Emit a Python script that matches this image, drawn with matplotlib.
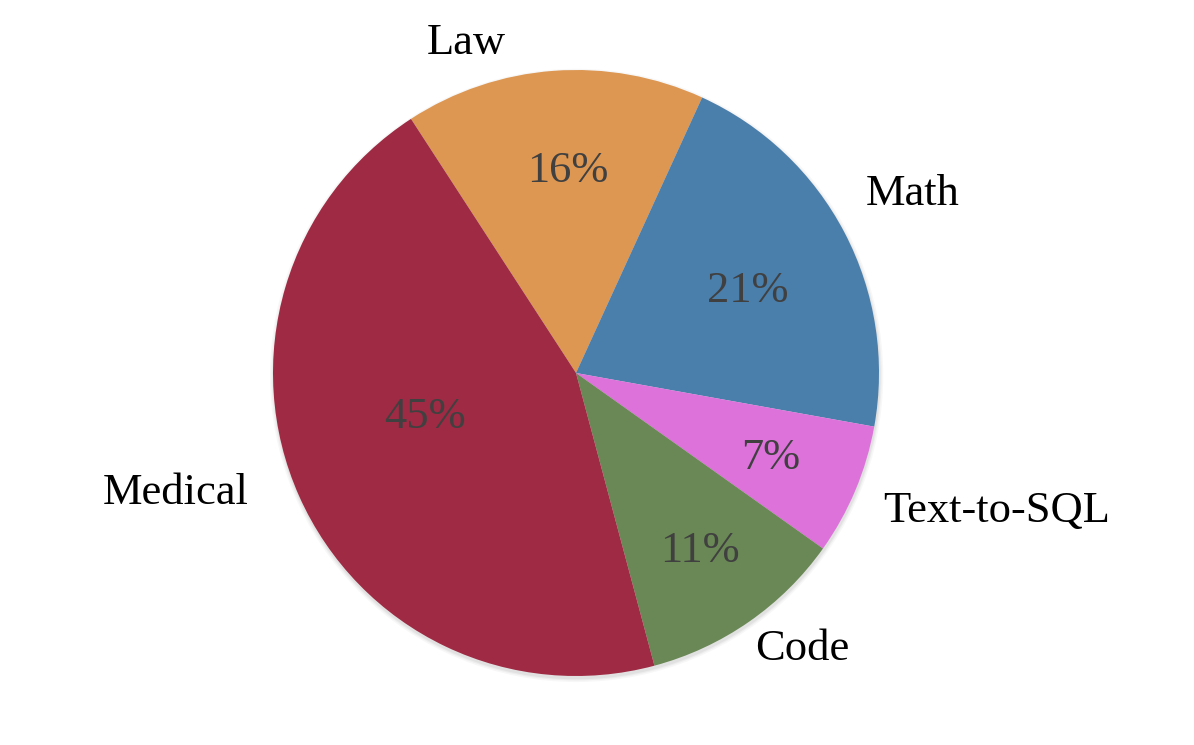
import matplotlib.pyplot as plt
from matplotlib.patches import Circle

# Data
categories = ['Law', 'Math', 'Text-to-SQL', 'Code', 'Medical']
shares = [16, 21, 7, 11, 45]
colors = ['#DD9752', '#4A7EAB', '#DD72DB', '#6A8855', '#9E2A43']

# label / percent positions (in pie-radius units, relative to centre)
label_pos = [(-0.363, 1.088), (1.112, 0.590), (1.389, -0.457), (0.746, -0.910), (-1.320, -0.397)]
pct_pos = [(-0.026, 0.667), (0.568, 0.271), (0.644, -0.281), (0.409, -0.588), (-0.498, -0.145)]

plt.rcParams['font.family'] = ['Liberation Serif', 'DejaVu Serif']

fig = plt.figure(figsize=(11.94, 7.45), dpi=100)
ax = fig.add_axes([0, 0, 1, 1])

# soft grey shadow under the pie
for dr, a in [(0.012, 0.06), (0.007, 0.08), (0.003, 0.10)]:
    ax.add_patch(Circle((0.002, -0.008), 1 + dr, color='grey', alpha=a, lw=0, zorder=0))

wedges, texts, autotexts = ax.pie(
    shares, labels=categories, colors=colors, startangle=123, counterclock=False,
    autopct='%d%%', radius=1,
    wedgeprops={'linewidth': 0, 'zorder': 1},
    textprops={'fontsize': 32},
)

for t, p in zip(texts, label_pos):
    t.set_position(p)
    t.set_ha('center')
    t.set_va('center')
    t.set_color('black')
for t, p in zip(autotexts, pct_pos):
    t.set_position(p)
    t.set_ha('center')
    t.set_va('center')
    t.set_color('#404040')

# centre at (576, 373) px with radius ~303 px
r_px = 303
ax.set_xlim(-576 / r_px, (1194 - 576) / r_px)
ax.set_ylim(-(745 - 373) / r_px, 373 / r_px)
ax.set_aspect('auto')
ax.axis('off')

plt.savefig('out.png', dpi=100)
